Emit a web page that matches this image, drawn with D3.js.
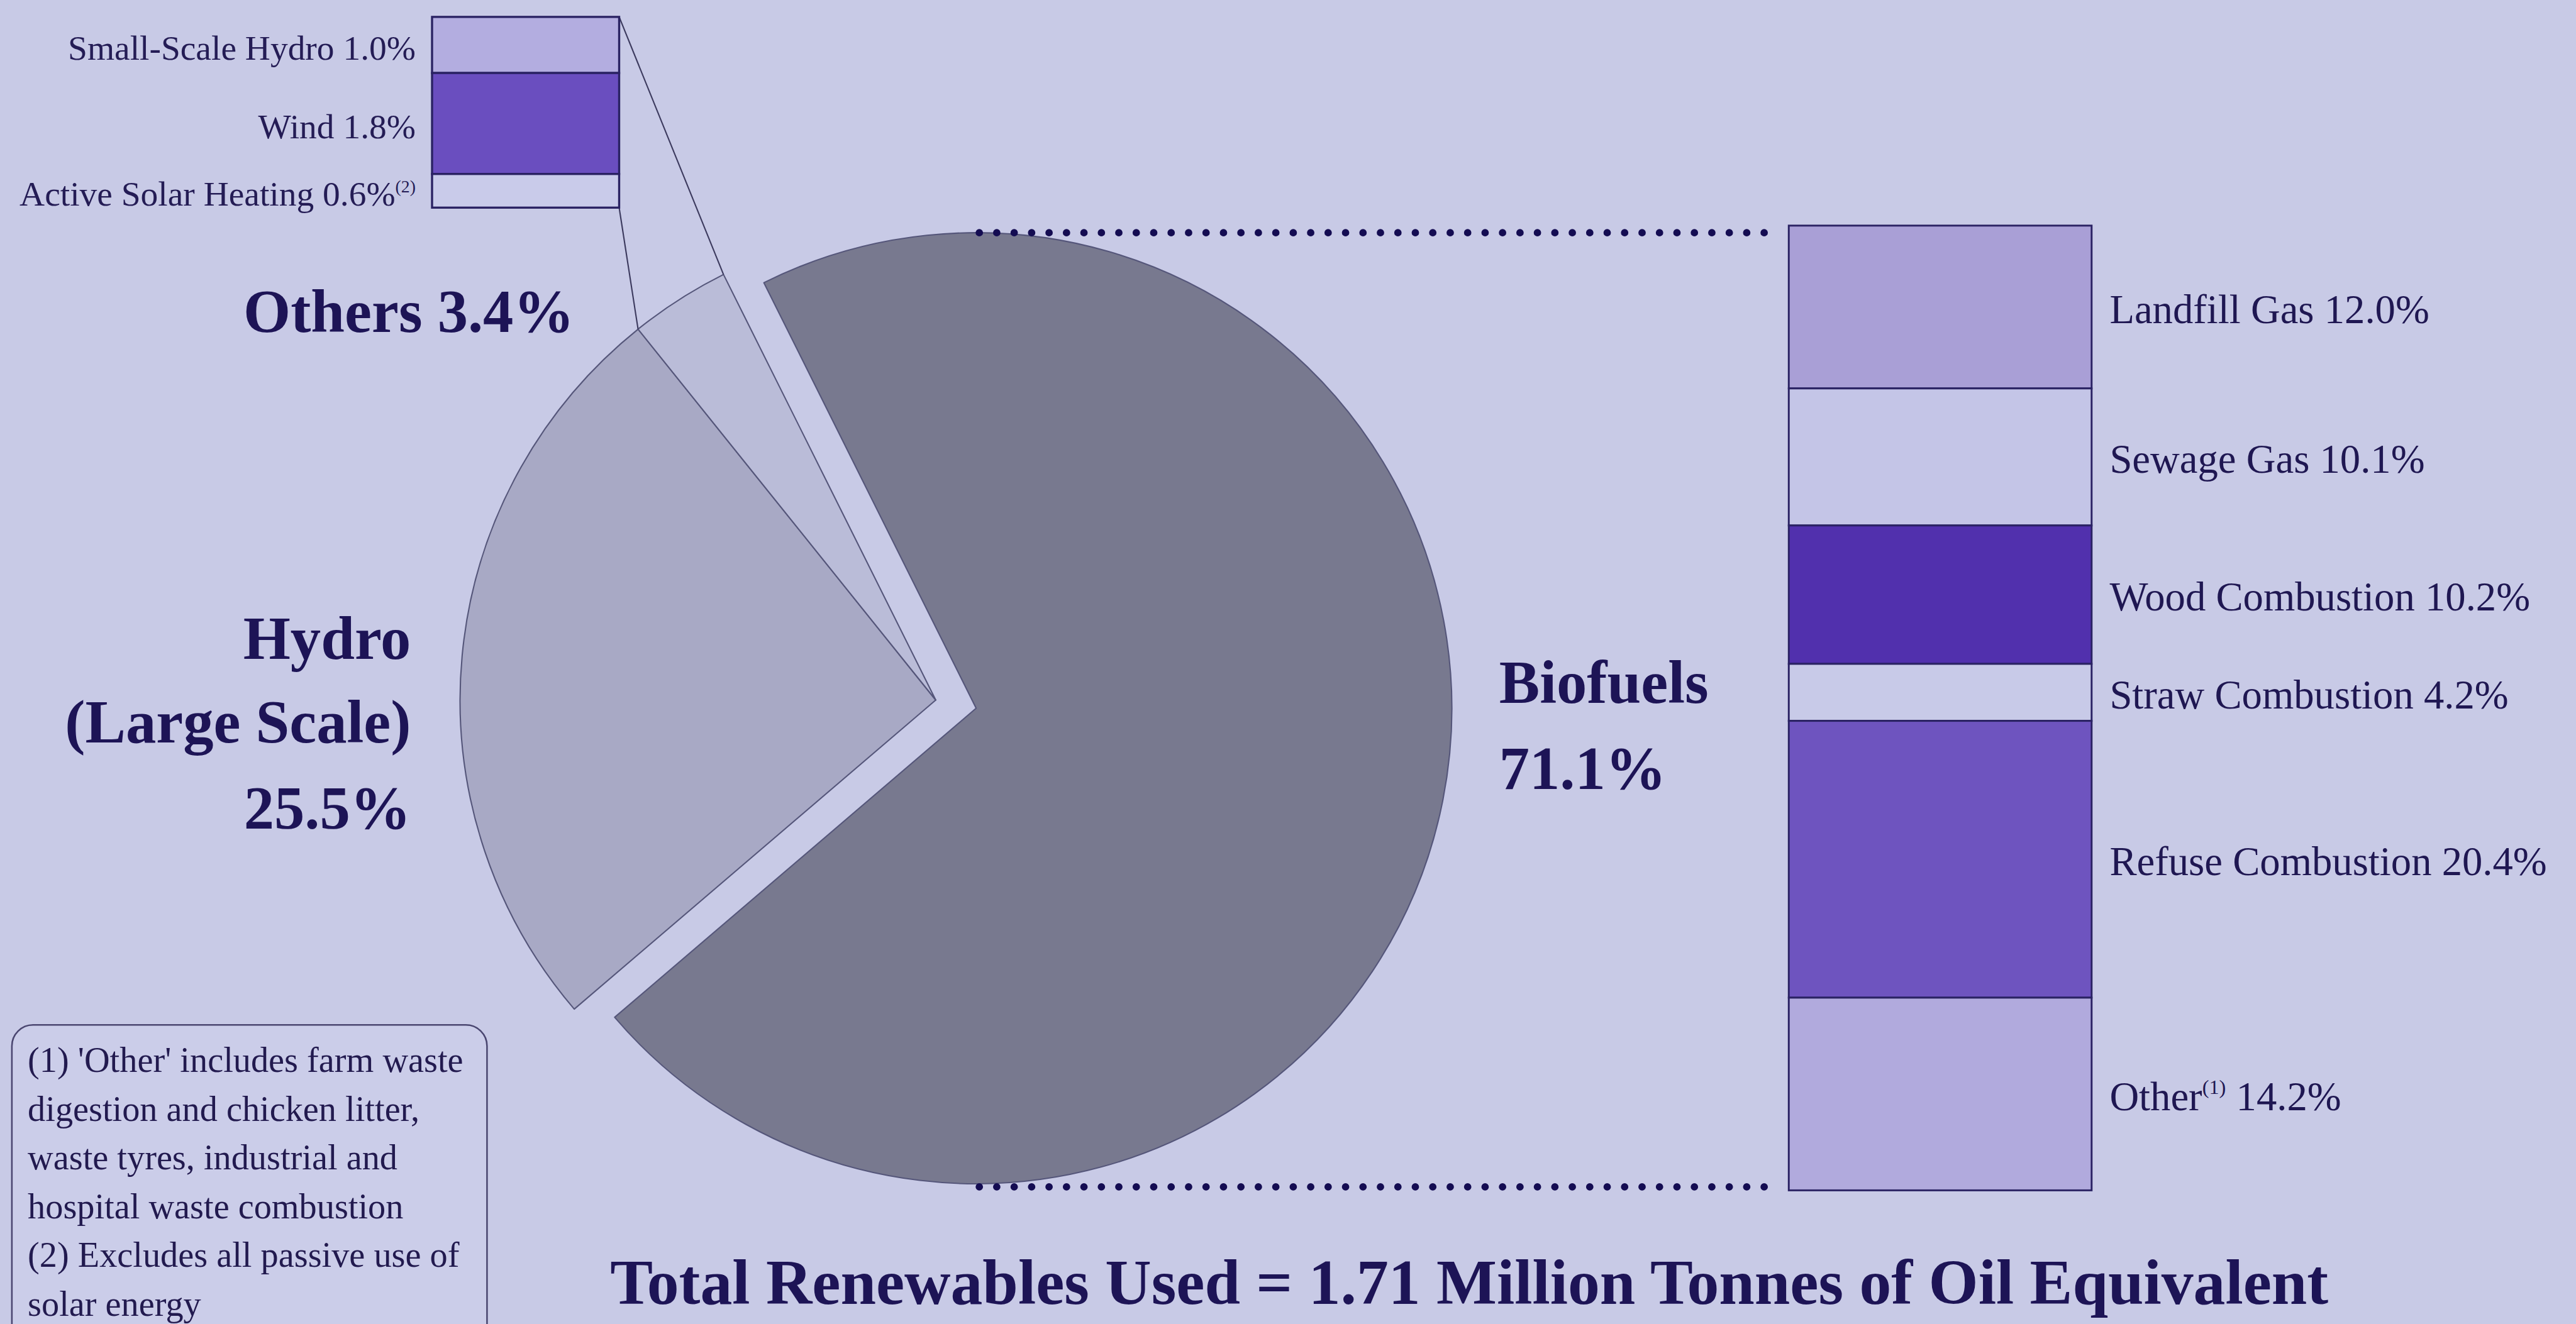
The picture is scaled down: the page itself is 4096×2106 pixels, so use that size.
<!DOCTYPE html>
<html>
<head>
<meta charset="utf-8">
<script src="https://cdn.jsdelivr.net/npm/d3@7"></script>
<style>
  html, body { margin: 0; padding: 0; background: #c8cae6; overflow: hidden; }
  svg { display: block; }
  text { font-family: "Liberation Serif", "Times New Roman", serif; }
</style>
</head>
<body>
<svg id="chart"></svg>
<script>
// ---- data ----
const mainCategories = ["Biofuels", "Hydro (Large Scale)", "Others"];
const mainValues = [71.1, 25.5, 3.4];

const otherCategories = ["Small-Scale Hydro", "Wind", "Active Solar Heating"];
const otherValues = [1.0, 1.8, 0.6];
const otherNotes = ["", "", "(2)"];

const bioCategories = ["Landfill Gas", "Sewage Gas", "Wood Combustion", "Straw Combustion", "Refuse Combustion", "Other"];
const bioValues = [12.0, 10.1, 10.2, 4.2, 20.4, 14.2];
const bioNotes = ["", "", "", "", "", "(1)"];

const totalText = "Total Renewables Used = 1.71 Million Tonnes of Oil Equivalent";
const footnoteLines = [
  "(1) 'Other' includes farm waste",
  "digestion and chicken litter,",
  "waste tyres, industrial and",
  "hospital waste combustion",
  "(2) Excludes all passive use of",
  "solar energy"
];

// ---- palette ----
const bg = "#c8cae6";
const ink = "#1d1456";
const sliceFill = ["#78798f", "#a8a9c5", "#babcd8"];
const otherFill = ["#b3ade0", "#6a4ebf", "#c9cbea"];
const bioFill = ["#a99fd6", "#c4c5e7", "#5130ad", "#c8cae8", "#6e54bf", "#b1aadd"];

// ---- canvas (drawn in 4873 x 2506 units, shown at 4096 x 2106) ----
const W = 4873, H = 2506;
const svg = d3.select("#chart")
  .attr("width", 4096).attr("height", 2106)
  .attr("viewBox", `0 0 ${W} ${H}`);
svg.append("rect").attr("width", W).attr("height", H).attr("fill", bg);

const deg = Math.PI / 180;
const polar = (a, r) => [r * Math.sin(a), -r * Math.cos(a)];

// ---- exploded pie ----
const cx = 1770, cy = 1325, R = 900, explode = 78;
const pie = d3.pie().sort(null).startAngle(-26.5 * deg).endAngle(333.5 * deg);
const arcs = pie(mainValues);
const arc = d3.arc().innerRadius(0).outerRadius(R);
const offsets = arcs.map((d, i) => {
  if (i !== 0) return [0, 0];
  return polar((d.startAngle + d.endAngle) / 2, explode);
});

const pieG = svg.append("g").attr("transform", `translate(${cx},${cy})`);
pieG.selectAll("path.slice")
  .data(arcs)
  .join("path")
  .attr("class", "slice")
  .attr("d", arc)
  .attr("transform", (d, i) => `translate(${offsets[i][0]},${offsets[i][1]})`)
  .attr("fill", (d, i) => sliceFill[i])
  .attr("stroke", "#55567a")
  .attr("stroke-width", 2.5)
  .attr("stroke-linejoin", "round");

// ---- breakdown of "Others" (small stacked bar, top left) ----
const ox0 = 817, ox1 = 1171;
const oy = d3.scaleLinear().domain([0, d3.sum(otherValues)]).range([32, 393]);
const otherStack = otherValues.map((v, i) => {
  const y0 = d3.sum(otherValues.slice(0, i));
  return { name: otherCategories[i], value: v, note: otherNotes[i], y0, y1: y0 + v, i };
});

// connector lines from the small bar to the "Others" slice
const othersArc = arcs[2];
const pStart = polar(othersArc.startAngle, R);
const pEnd = polar(othersArc.endAngle, R);
svg.append("line")
  .attr("x1", ox1).attr("y1", oy(d3.sum(otherValues)))
  .attr("x2", cx + pStart[0]).attr("y2", cy + pStart[1])
  .attr("stroke", "#3c3a5e").attr("stroke-width", 2.5);
svg.append("line")
  .attr("x1", ox1).attr("y1", oy(0))
  .attr("x2", cx + pEnd[0]).attr("y2", cy + pEnd[1])
  .attr("stroke", "#3c3a5e").attr("stroke-width", 2.5);

const oG = svg.append("g");
oG.selectAll("rect")
  .data(otherStack)
  .join("rect")
  .attr("x", ox0).attr("width", ox1 - ox0)
  .attr("y", d => oy(d.y0)).attr("height", d => oy(d.y1) - oy(d.y0))
  .attr("fill", d => otherFill[d.i])
  .attr("stroke", "#2a2263").attr("stroke-width", 4);

const smallSize = 66;
const oLabels = oG.selectAll("text")
  .data(otherStack)
  .join("text")
  .attr("x", 786)
  .attr("y", d => (oy(d.y0) + oy(d.y1)) / 2 + smallSize * 0.33 + 6)
  .attr("text-anchor", "end")
  .attr("font-size", smallSize)
  .attr("fill", "#241c55");
oLabels.append("tspan").text(d => `${d.name} ${d.value.toFixed(1)}%`);
oLabels.filter(d => d.note).append("tspan")
  .attr("font-size", smallSize * 0.5)
  .attr("dy", -smallSize * 0.38)
  .text(d => d.note);

// ---- breakdown of "Biofuels" (tall stacked bar, right) ----
const bx0 = 3384, bx1 = 3957;
const by = d3.scaleLinear().domain([0, d3.sum(bioValues)]).range([427, 2253]);
const bioStack = bioValues.map((v, i) => {
  const y0 = d3.sum(bioValues.slice(0, i));
  return { name: bioCategories[i], value: v, note: bioNotes[i], y0, y1: y0 + v, i };
});

// dotted guides from the Biofuels slice to the bar
const bioCenter = [cx + offsets[0][0], cy + offsets[0][1]];
[bioCenter[1] - R, bioCenter[1] + R + 6].forEach(y => {
  svg.append("line")
    .attr("x1", bioCenter[0] + 6).attr("x2", bx0 - 26)
    .attr("y1", y).attr("y2", y)
    .attr("stroke", "#140c52")
    .attr("stroke-width", 14)
    .attr("stroke-linecap", "round")
    .attr("stroke-dasharray", "0 33");
});

const bG = svg.append("g");
bG.selectAll("rect")
  .data(bioStack)
  .join("rect")
  .attr("x", bx0).attr("width", bx1 - bx0)
  .attr("y", d => by(d.y0)).attr("height", d => by(d.y1) - by(d.y0))
  .attr("fill", d => bioFill[d.i])
  .attr("stroke", "#2a2263").attr("stroke-width", 3.5);

const bioSize = 77;
const bLabels = bG.selectAll("text")
  .data(bioStack)
  .join("text")
  .attr("x", 3991)
  .attr("y", d => (by(d.y0) + by(d.y1)) / 2 + bioSize * 0.33 + 5)
  .attr("font-size", bioSize)
  .attr("fill", "#1f1752");
bLabels.append("tspan").text(d => d.name);
bLabels.filter(d => d.note).append("tspan")
  .attr("font-size", bioSize * 0.5)
  .attr("dy", -bioSize * 0.4)
  .text(d => d.note);
bLabels.append("tspan")
  .attr("dy", d => d.note ? bioSize * 0.4 : 0)
  .text(d => ` ${d.value.toFixed(1)}%`);

// ---- slice labels ----
const bigSize = 115;
const bigLabel = (lines, x, ys, anchor) => {
  const t = svg.append("text")
    .attr("text-anchor", anchor)
    .attr("font-size", bigSize)
    .attr("font-weight", "bold")
    .attr("fill", ink);
  lines.forEach((s, k) => t.append("tspan").attr("x", x).attr("y", ys[k]).text(s));
};
bigLabel([`Others ${mainValues[2].toFixed(1)}%`], 1086, [628], "end");
bigLabel(["Hydro", "(Large Scale)", `${mainValues[1].toFixed(1)}%`], 777, [1247, 1405, 1568], "end");
bigLabel(["Biofuels", `${mainValues[0].toFixed(1)}%`], 2836, [1330, 1493], "start");

// ---- total ----
svg.append("text")
  .attr("x", 1154).attr("y", 2468)
  .attr("font-size", 121)
  .attr("font-weight", "bold")
  .attr("fill", ink)
  .text(totalText);

// ---- footnote box ----
svg.append("rect")
  .attr("x", 22).attr("y", 1940)
  .attr("width", 899).attr("height", 700)
  .attr("rx", 40).attr("ry", 40)
  .attr("fill", "#cbcde9")
  .attr("stroke", "#4a4670").attr("stroke-width", 3);
const fn = svg.append("text")
  .attr("font-size", 67)
  .attr("fill", "#221a4f");
footnoteLines.forEach((s, k) => {
  fn.append("tspan").attr("x", 52).attr("y", 2029 + k * 92.3).text(s);
});
</script>
</body>
</html>
